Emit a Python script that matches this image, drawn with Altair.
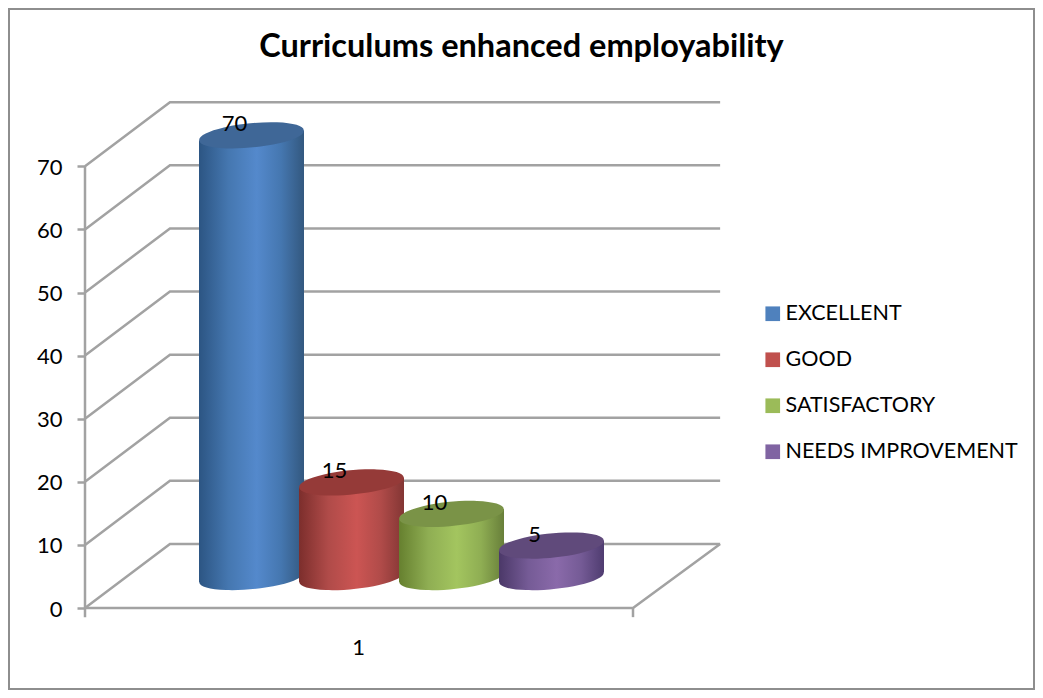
import altair as alt
import pandas as pd

categories = ["EXCELLENT", "GOOD", "SATISFACTORY", "NEEDS IMPROVEMENT"]
values = [70, 15, 10, 5]
legend_colors = ["#4f81bd", "#c0504d", "#9bbb59", "#8064a2"]
edge_left = ["#2c5583", "#7c2e2c", "#66802f", "#4b3868"]
shade_left = ["#4577b0", "#b04b49", "#8fae53", "#755b96"]
mid_tone = ["#5489cc", "#cc5553", "#a3c55f", "#8a6aaa"]
edge_right = ["#33587f", "#833634", "#687f3a", "#4f3c70"]
top_colors = ["#3f6797", "#953a38", "#7a9347", "#604a7b"]
y_ticks = [0, 10, 20, 30, 40, 50, 60, 70]
x_tick_label = [1]
title_text = "Curriculums enhanced employability"

GRID = "#a2a2a2"
FONT = "Lato"
W, H = 1027, 682

# scale set-up: category band 0.5..1.5 spans the floor's front edge
PX_PER_X = 548.0
PX_PER_Y = 6.31
X0_PAGE, Y0_PAGE = 85.0, 608.0
x_dom = [0.5 + (8 - X0_PAGE) / PX_PER_X, 0.5 + (8 + W - X0_PAGE) / PX_PER_X]
y_dom = [(Y0_PAGE - 8 - H) / PX_PER_Y, (Y0_PAGE - 8) / PX_PER_Y]
xs = alt.Scale(domain=x_dom, nice=False, zero=False)
ys = alt.Scale(domain=y_dom, nice=False, zero=False)

DEPTH_Y = 10.15
DEPTH_X = 0.155
BASE = 4.9
CYL_W = 105 / PX_PER_X
STEP = 100 / PX_PER_X
FIRST = 0.5 + (251.5 - X0_PAGE) / PX_PER_X
TILT = 5 / PX_PER_Y
SHAPE = ("M-0.995,0.096 A1,0.225 -5.5 1 1 0.995,-0.096 "
         "A1,0.225 -5.5 1 1 -0.995,0.096 Z")
SIZE = 105 ** 2

centers = [FIRST + i * STEP for i in range(len(values))]

# wall grid lines
rows = []
for t in y_ticks:
    rows.append(dict(t=t, o=0, x=0.5, y=t))
    rows.append(dict(t=t, o=1, x=0.5 + DEPTH_X, y=t + DEPTH_Y))
    rows.append(dict(t=t, o=2, x=1.5 + DEPTH_X + 0.004, y=t + DEPTH_Y))
rows += [dict(t=-1, o=0, x=0.5, y=0), dict(t=-1, o=1, x=1.5, y=0),
         dict(t=-1, o=2, x=1.5 + DEPTH_X + 0.004, y=DEPTH_Y)]
grid_df = pd.DataFrame(rows)

lines = alt.Chart(grid_df).mark_line(color=GRID, strokeWidth=2.5).encode(
    x=alt.X("x:Q", scale=xs, title=None,
            axis=alt.Axis(values=x_tick_label, format="d", orient="bottom",
                          offset=-(8 + H - Y0_PAGE), ticks=False, domain=False,
                          grid=False, labelFont=FONT, labelFontSize=22,
                          labelColor="#000000", labelPadding=29, labelOffset=-1)),
    y=alt.Y("y:Q", scale=ys, title=None,
            axis=alt.Axis(values=y_ticks, format="d", orient="left",
                          offset=-(X0_PAGE - 8), tickSize=8, tickWidth=2.5,
                          tickColor=GRID, domain=False, grid=False,
                          labelFont=FONT, labelFontSize=22, labelOffset=1,
                          labelColor="#000000", labelPadding=15)),
    detail="t:N", order="o:Q",
)

axis_rule = alt.Chart(pd.DataFrame(
    {"x": [0.5, 1.5], "y": [70, 0], "y2": [-1.45, -1.45]}
)).mark_rule(color=GRID, strokeWidth=2.5).encode(
    x=alt.X("x:Q", scale=xs), y=alt.Y("y:Q", scale=ys), y2="y2:Q")

border = alt.Chart(pd.DataFrame({"a": [0]})).mark_rect(
    fill="transparent", stroke="#8e8e8e", strokeWidth=2
).encode(x=alt.value(1), x2=alt.value(W - 1), y=alt.value(1), y2=alt.value(H - 1))

legend_df = pd.DataFrame({"cat": categories, "x": [centers[0]] * 4, "y": [30] * 4})
legend_layer = alt.Chart(legend_df).mark_square(size=1, opacity=1).encode(
    x=alt.X("x:Q", scale=xs),
    y=alt.Y("y:Q", scale=ys),
    color=alt.Color("cat:N", sort=categories,
                    scale=alt.Scale(domain=categories, range=legend_colors),
                    legend=alt.Legend(
                        title=None, orient="none", legendX=754, legendY=295,
                        symbolType="square", symbolSize=215, symbolStrokeWidth=0,
                        labelFont=FONT, labelFontSize=21.5, labelColor="#000000",
                        labelLimit=300, labelOffset=2, rowPadding=23)),
)

layers = [border, lines, axis_rule, legend_layer]
for i, (c, v) in enumerate(zip(centers, values)):
    grad = alt.LinearGradient(
        gradient="linear", x1=0, x2=1, y1=0, y2=0,
        stops=[alt.GradientStop(color=edge_left[i], offset=0),
               alt.GradientStop(color=shade_left[i], offset=0.28),
               alt.GradientStop(color=mid_tone[i], offset=0.55),
               alt.GradientStop(color=shade_left[i], offset=0.78),
               alt.GradientStop(color=edge_right[i], offset=1)])
    top = BASE + v
    body = pd.DataFrame({
        "x": [c - CYL_W / 2, c + CYL_W / 2],
        "y": [top - TILT, top + TILT],
        "y2": [BASE - TILT, BASE + TILT],
    })
    layers.append(alt.Chart(pd.DataFrame({"x": [c], "y": [BASE]})).mark_point(
        shape=SHAPE, size=SIZE, filled=True, color=grad, opacity=1, strokeWidth=0
    ).encode(x=alt.X("x:Q", scale=xs), y=alt.Y("y:Q", scale=ys)))
    layers.append(alt.Chart(body).mark_area(color=grad, opacity=1).encode(
        x=alt.X("x:Q", scale=xs),
        y=alt.Y("y:Q", scale=ys, stack=None), y2="y2:Q"))
    layers.append(alt.Chart(pd.DataFrame({"x": [c], "y": [top]})).mark_point(
        shape=SHAPE, size=SIZE, filled=True, color=top_colors[i], opacity=1, strokeWidth=0
    ).encode(x=alt.X("x:Q", scale=xs), y=alt.Y("y:Q", scale=ys)))

labels_df = pd.DataFrame({"x": centers, "y": [BASE + v for v in values],
                          "t": [str(v) for v in values]})
labels = alt.Chart(labels_df).mark_text(
    font=FONT, fontSize=22, color="#000000", dx=-17, dy=-11
).encode(x=alt.X("x:Q", scale=xs), y=alt.Y("y:Q", scale=ys), text="t:N")
layers.append(labels)

chart = alt.layer(*layers).properties(
    width=W, height=H, padding=0,
    autosize=alt.AutoSizeParams(type="none"),
    title=alt.TitleParams(title_text, font=FONT, fontSize=32.5, fontWeight="bold",
                          color="#000000", anchor="middle", frame="group",
                          orient="top", baseline="middle", dy=71, offset=0),
).configure_view(stroke=None)

chart.save("out.html", embed_options={"renderer": "svg", "actions": False})
